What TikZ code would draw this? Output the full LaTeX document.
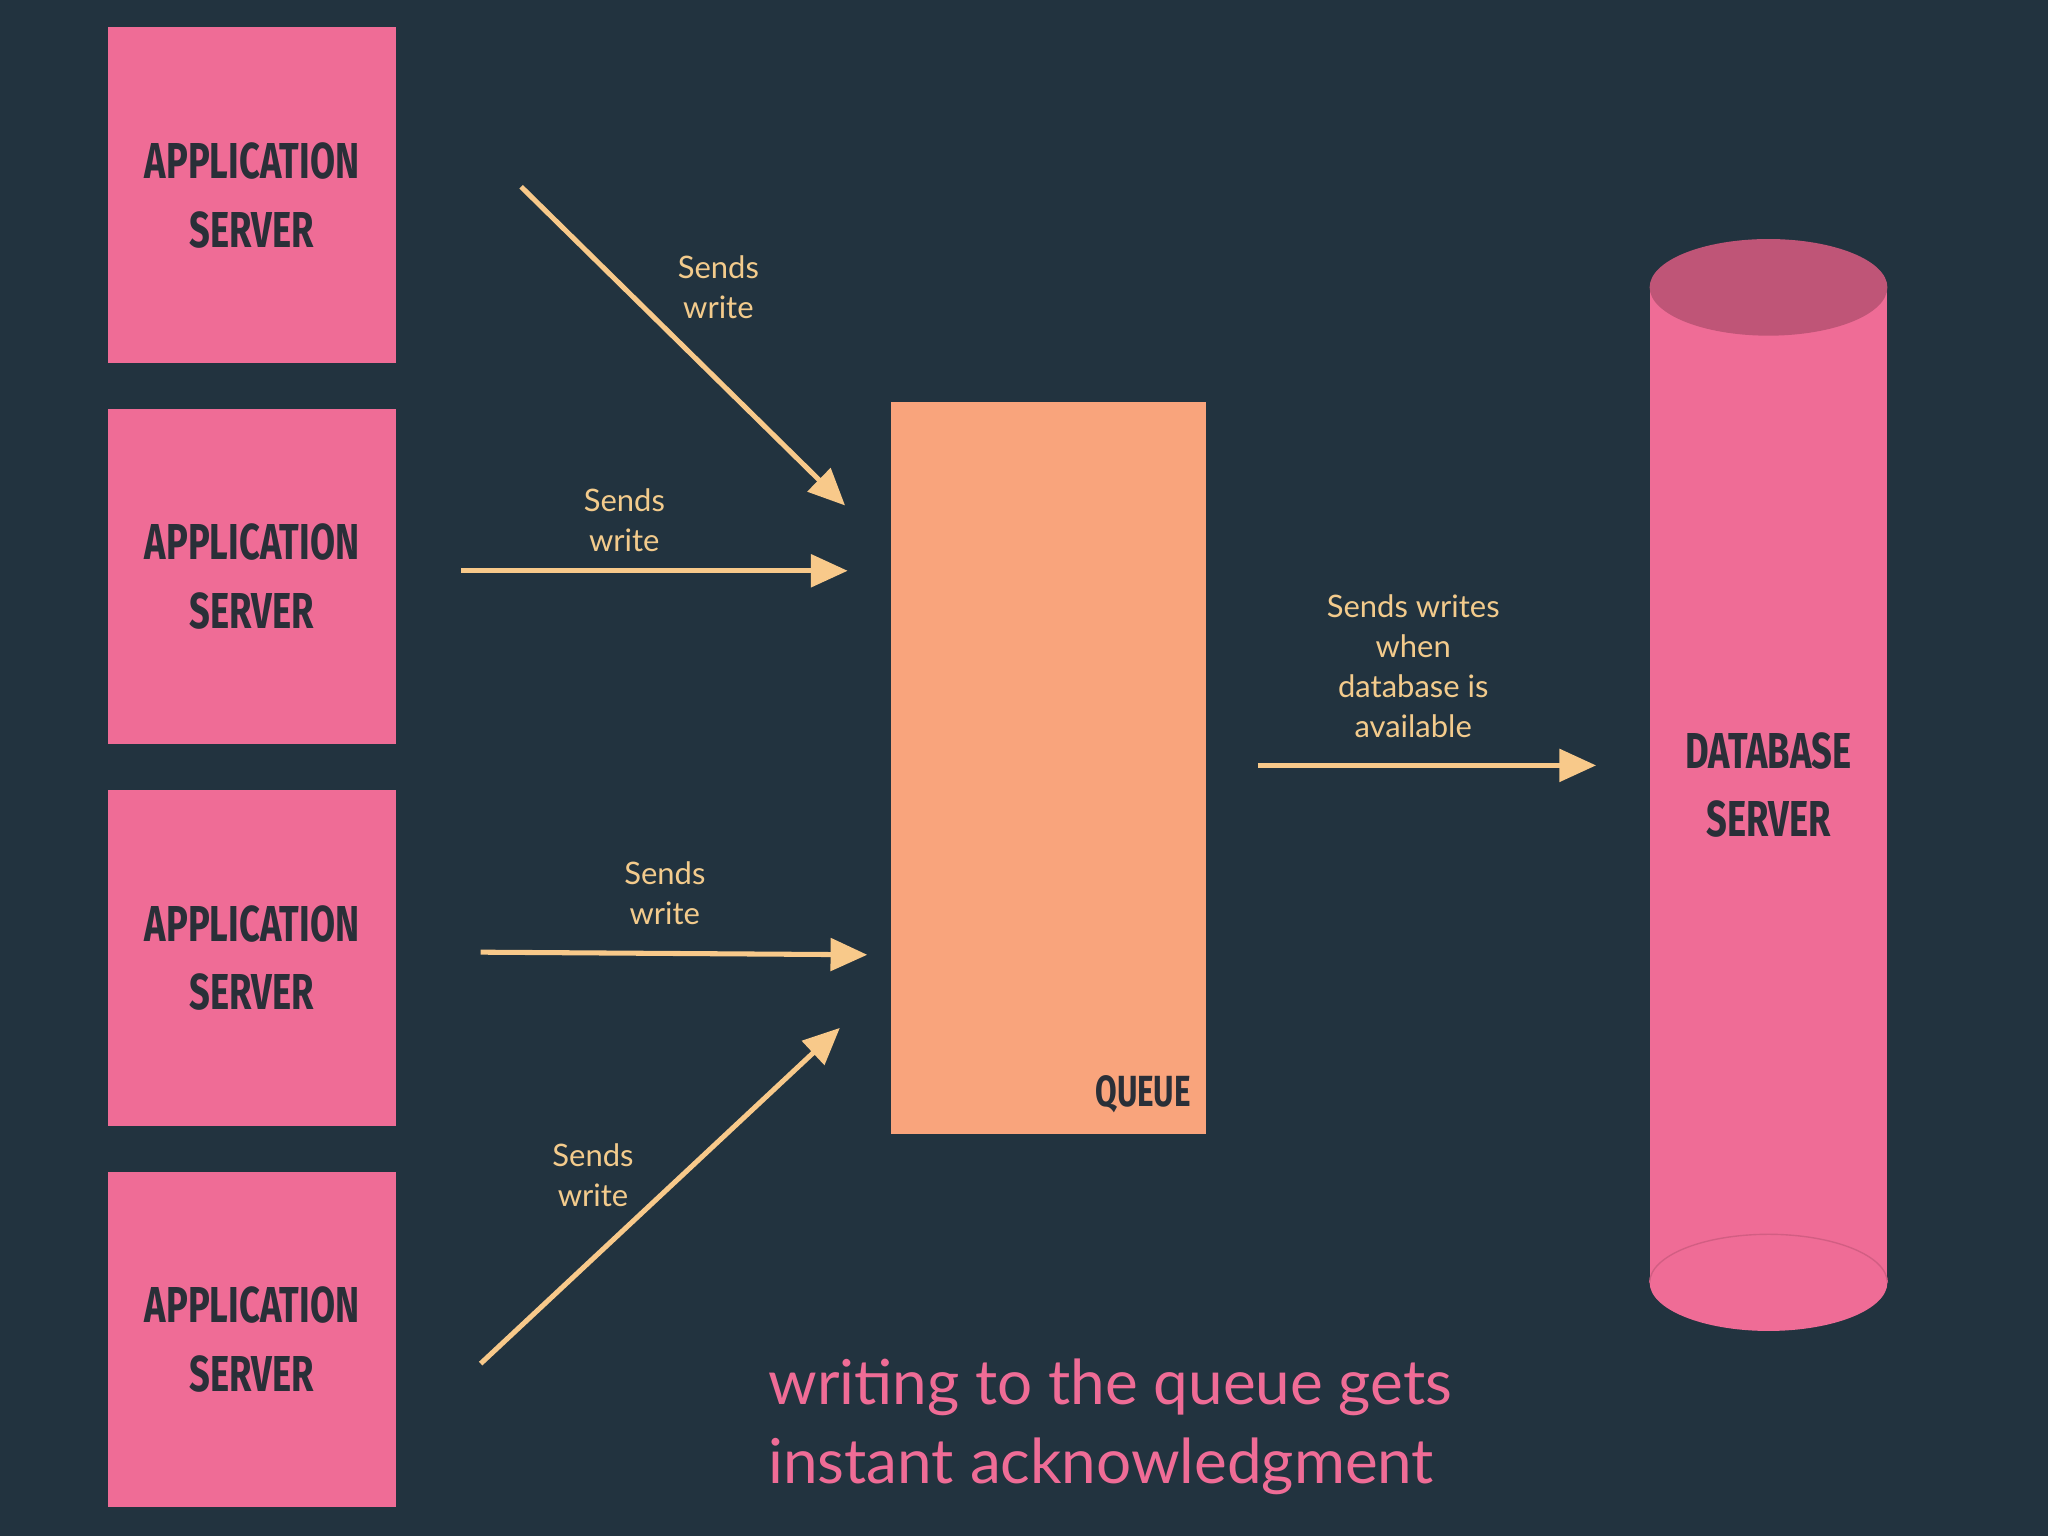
\documentclass[tikz,border=0pt]{standalone}
\usepackage{fontspec}
\setmainfont{Lato}
\newfontfamily\boxfont[FakeStretch=0.72]{Fira Sans Bold}
\usetikzlibrary{arrows.meta}
\definecolor{bg}{HTML}{22333F}
\definecolor{pinkc}{HTML}{EF6C96}
\definecolor{pinkd}{HTML}{BF5577}
\definecolor{queuec}{HTML}{F9A47C}
\definecolor{arrc}{HTML}{F8C98A}
\definecolor{txtc}{HTML}{F3CB8C}
\definecolor{boxtxt}{HTML}{2A2F38}
\begin{document}
\begin{tikzpicture}[x=0.02cm,y=-0.02cm,
  appbox/.style={fill=pinkc,minimum width=4.4cm,minimum height=5.14cm,inner sep=0,
    font=\boxfont\fontsize{22}{30}\selectfont,text=boxtxt,align=center},
  lbl/.style={font=\fontsize{13.5}{17.5}\selectfont,text=txtc,align=center},
  arr/.style={draw=arrc,line width=2.2pt,-{Triangle[length=16pt,width=14pt]}}]
\fill[bg] (0,0) rectangle (1568,1176);
\node[appbox] (a1) at (193,149.5) {APPLICATION\\SERVER};
\node[appbox] (a2) at (193,441.5) {APPLICATION\\SERVER};
\node[appbox] (a3) at (193,733.5) {APPLICATION\\SERVER};
\node[appbox] (a4) at (193,1025.5) {APPLICATION\\SERVER};
\node[fill=queuec,minimum width=4.82cm,minimum height=11.2cm,inner sep=0] (q) at (802.5,588) {};
\node[font=\boxfont\fontsize{19}{24}\selectfont,text=boxtxt,anchor=east] (ql) at (918,838) {QUEUE};
% cylinder
\fill[pinkc] (1263,220) rectangle (1445,982);
\fill[pinkc] (1354,982) ellipse (91 and 37);
\draw[pinkd!60!pinkc,line width=0.6pt] (1263,982) arc (180:360:91 and 37);
\fill[pinkd] (1354,220) ellipse (91 and 37);
\node[font=\boxfont\fontsize{22}{30}\selectfont,text=boxtxt,align=center] (db) at (1354,601) {DATABASE\\SERVER};
% arrows
\coordinate (s1) at (399,143); \coordinate (e1) at (647,387);
\coordinate (s2) at (353,437); \coordinate (e2) at (649,437);
\coordinate (s3) at (368,729); \coordinate (e3) at (664,731);
\coordinate (s4) at (368,1044); \coordinate (e4) at (643,787);
\coordinate (s5) at (963,586); \coordinate (e5) at (1222,586);
\draw[arr] (s1) -- (e1);
\draw[arr] (s2) -- (e2);
\draw[arr] (s3) -- (e3);
\draw[arr] (s4) -- (e4);
\draw[arr] (s5) -- (e5);
\node[lbl] (l1) at (550,220) {Sends\\write};
\node[lbl] (l2) at (478,398) {Sends\\write};
\node[lbl] (l3) at (509,684) {Sends\\write};
\node[lbl] (l4) at (454,900) {Sends\\write};
\node[lbl] (l5) at (1082,510) {Sends writes\\when\\database is\\available};
\node[font=\fontsize{27}{34.5}\selectfont,text=pinkc,align=left,anchor=north west,inner sep=0] (cap) at (588,1040) {writing to the queue gets\\instant acknowledgment};
\end{tikzpicture}
\end{document}
